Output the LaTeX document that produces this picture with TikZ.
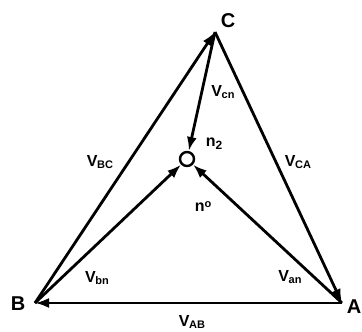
\documentclass[tikz,border=0pt]{standalone}
\usepackage{fontspec}
\setmainfont{Liberation Sans}
\usetikzlibrary{arrows.meta}
\begin{document}
\begin{tikzpicture}[x=1pt,y=-1pt,
  edge/.style={line width=2.8pt,-{Latex[length=14pt,width=10pt]}},
  vlab/.style={font=\bfseries\fontsize{16}{16}\selectfont,inner sep=0pt},
  vtx/.style={font=\bfseries\fontsize{20}{20}\selectfont,inner sep=0pt}]
\newcommand{\vsub}[1]{V\kern-0.5pt\raisebox{-1.5pt}{\fontsize{11}{11}\selectfont #1}}
\useasboundingbox (0,0) rectangle (362,332);
\coordinate (C) at (215,32);
\coordinate (B) at (35,303);
\coordinate (A) at (342,303);
\node[circle,draw,line width=2.4pt,minimum size=14pt,inner sep=0pt] (n) at (187,159) {};
\draw[edge] (B) -- (C);
\draw[edge] (C) -- (A);
\draw[edge] (A) -- (B);
\draw[edge] (C) -- (n);
\draw[edge] (B) -- (n);
\draw[edge] (A) -- (n);
\node[vtx] (lC) at (228,21) {C};
\node[vtx] (lB) at (18,304) {B};
\node[vtx] (lA) at (354,307) {A};
\node[vlab] (lBC) at (100,162) {\vsub{BC}};
\node[vlab] (lCA) at (298,162) {\vsub{CA}};
\node[vlab] (lAB) at (192,322) {\vsub{AB}};
\node[vlab] (lcn) at (223,92) {\vsub{cn}};
\node[vlab] (lbn) at (97,278) {\vsub{bn}};
\node[vlab] (lan) at (290,277) {\vsub{an}};
\node[vlab] (ln2) at (214,144) {n\raisebox{-3pt}{\fontsize{12}{12}\selectfont 2}};
\node[vlab] (ln0) at (203,207) {n\raisebox{4pt}{\fontsize{11}{11}\selectfont o}};
\end{tikzpicture}
\end{document}
